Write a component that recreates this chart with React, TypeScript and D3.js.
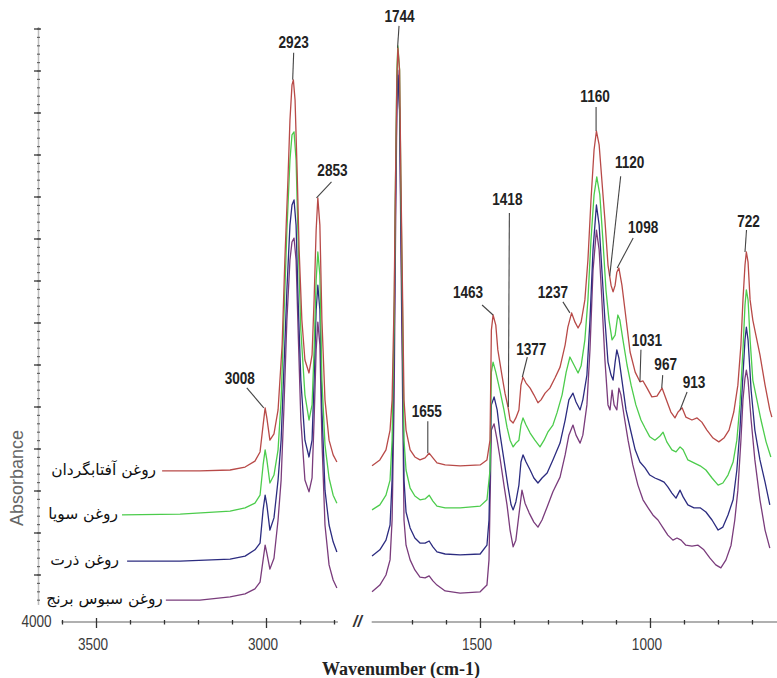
import React from 'react';
import * as d3 from 'd3';

const W = 777;
const H = 678;

// ---------- data ----------
const seriesNames = ['روغن آفتابگردان', 'روغن سویا', 'روغن ذرت', 'روغن سبوس برنج'];
const seriesColors = ['#b84a48', '#4ccc4c', '#2c2c80', '#7a3c7c'];

// [wavenumber (cm-1), absorbance] — 3400..2790 segment
const sunflowerHigh: [number, number][] = [
  [3307,0.348],[3196,0.348],[3107,0.350],[3063,0.357],[3034,0.371],[3019,0.393],[3010,0.457],[3004,0.498],[2999,0.474],[2990,0.421],[2978,0.436],[2966,0.493],[2954,0.648],[2946,0.850],[2937,1.040],[2931,1.183],[2925,1.267],[2921,1.279],[2916,1.231],[2910,1.064],[2904,0.874],[2896,0.707],[2887,0.612],[2875,0.581],[2866,0.624],[2860,0.755],[2854,0.921],[2849,0.998],[2843,0.933],[2837,0.707],[2828,0.517],[2816,0.421],[2804,0.386],[2793,0.369]
];
const soyHigh: [number, number][] = [
  [3425,0.243],[3254,0.245],[3107,0.252],[3063,0.260],[3034,0.271],[3019,0.290],[3010,0.362],[3004,0.398],[2999,0.374],[2990,0.319],[2978,0.338],[2966,0.398],[2957,0.517],[2949,0.707],[2940,0.921],[2931,1.088],[2925,1.148],[2919,1.155],[2913,1.088],[2907,0.898],[2899,0.683],[2887,0.529],[2875,0.469],[2866,0.505],[2860,0.636],[2854,0.802],[2849,0.869],[2843,0.814],[2837,0.564],[2828,0.410],[2816,0.331],[2804,0.290],[2793,0.271]
];
const cornHigh: [number, number][] = [
  [3410,0.133],[3254,0.133],[3107,0.138],[3063,0.145],[3034,0.160],[3019,0.176],[3010,0.255],[3004,0.290],[2999,0.267],[2990,0.207],[2978,0.236],[2966,0.326],[2957,0.421],[2949,0.588],[2940,0.779],[2931,0.933],[2925,0.981],[2919,0.993],[2913,0.933],[2907,0.755],[2899,0.564],[2887,0.421],[2875,0.381],[2866,0.421],[2860,0.564],[2854,0.731],[2849,0.790],[2843,0.731],[2837,0.493],[2828,0.302],[2816,0.219],[2804,0.179],[2793,0.155]
];
const riceBranHigh: [number, number][] = [
  [3296,0.040],[3196,0.040],[3107,0.048],[3063,0.055],[3034,0.067],[3019,0.083],[3010,0.136],[3004,0.171],[2999,0.152],[2990,0.114],[2978,0.140],[2966,0.231],[2957,0.326],[2949,0.493],[2940,0.707],[2931,0.850],[2925,0.893],[2919,0.902],[2913,0.850],[2907,0.683],[2899,0.469],[2887,0.326],[2875,0.298],[2866,0.331],[2860,0.469],[2854,0.636],[2849,0.702],[2843,0.648],[2837,0.421],[2828,0.219],[2816,0.124],[2804,0.088],[2793,0.069]
];

// 1820..640 segment
const sunflowerLow: [number, number][] = [
  [1819,0.360],[1796,0.374],[1778,0.398],[1766,0.445],[1760,0.517],[1754,0.755],[1750,1.040],[1746,1.279],[1743,1.355],[1738,1.302],[1734,1.040],[1729,0.755],[1725,0.517],[1719,0.445],[1707,0.398],[1693,0.381],[1678,0.374],[1663,0.379],[1651,0.390],[1640,0.379],[1628,0.367],[1604,0.362],[1560,0.360],[1501,0.362],[1481,0.374],[1472,0.421],[1468,0.683],[1463,0.719],[1455,0.695],[1449,0.636],[1437,0.576],[1428,0.533],[1419,0.500],[1413,0.469],[1404,0.462],[1396,0.474],[1387,0.493],[1381,0.552],[1375,0.571],[1366,0.557],[1354,0.545],[1343,0.529],[1331,0.510],[1322,0.517],[1310,0.533],[1296,0.545],[1281,0.569],[1266,0.595],[1251,0.648],[1243,0.690],[1232,0.724],[1222,0.702],[1213,0.688],[1204,0.702],[1193,0.755],[1184,0.850],[1175,0.993],[1166,1.112],[1159,1.157],[1151,1.124],[1143,1.040],[1134,0.945],[1125,0.838],[1116,0.790],[1110,0.774],[1104,0.790],[1099,0.821],[1093,0.831],[1084,0.790],[1075,0.731],[1060,0.631],[1045,0.583],[1031,0.560],[1022,0.562],[1010,0.545],[996,0.524],[981,0.526],[966,0.545],[955,0.521],[940,0.488],[928,0.474],[919,0.488],[907,0.498],[896,0.476],[878,0.469],[863,0.474],[849,0.464],[834,0.445],[816,0.426],[799,0.417],[784,0.426],[769,0.445],[755,0.488],[743,0.552],[734,0.648],[728,0.755],[722,0.838],[718,0.869],[713,0.845],[707,0.755],[699,0.707],[690,0.671],[678,0.624],[663,0.552],[649,0.493],[643,0.476]
];
const soyLow: [number, number][] = [
  [1819,0.255],[1796,0.267],[1778,0.290],[1766,0.326],[1760,0.421],[1754,0.707],[1750,1.040],[1746,1.302],[1743,1.360],[1738,1.302],[1734,1.017],[1729,0.707],[1725,0.421],[1719,0.350],[1707,0.307],[1693,0.288],[1678,0.279],[1663,0.281],[1651,0.290],[1640,0.276],[1628,0.264],[1604,0.260],[1560,0.260],[1501,0.264],[1481,0.279],[1472,0.350],[1468,0.583],[1463,0.607],[1455,0.583],[1443,0.540],[1431,0.493],[1422,0.452],[1413,0.421],[1404,0.405],[1396,0.414],[1387,0.421],[1381,0.457],[1375,0.474],[1366,0.457],[1354,0.438],[1340,0.421],[1325,0.405],[1313,0.421],[1302,0.440],[1287,0.457],[1275,0.486],[1260,0.529],[1248,0.583],[1237,0.619],[1225,0.600],[1213,0.581],[1204,0.598],[1193,0.660],[1184,0.755],[1175,0.898],[1166,1.005],[1158,1.048],[1149,1.005],[1140,0.898],[1131,0.779],[1122,0.707],[1113,0.660],[1104,0.671],[1096,0.719],[1090,0.707],[1081,0.660],[1069,0.600],[1057,0.552],[1043,0.505],[1028,0.469],[1016,0.450],[1002,0.429],[987,0.421],[972,0.431],[963,0.440],[952,0.417],[937,0.398],[925,0.393],[913,0.405],[904,0.398],[890,0.374],[872,0.367],[854,0.360],[837,0.350],[819,0.331],[801,0.314],[787,0.319],[772,0.338],[757,0.369],[746,0.421],[737,0.505],[728,0.636],[722,0.743],[718,0.779],[713,0.755],[707,0.660],[699,0.564],[687,0.517],[675,0.469],[660,0.417],[646,0.381]
];
const cornLow: [number, number][] = [
  [1819,0.145],[1796,0.160],[1778,0.183],[1766,0.219],[1760,0.326],[1754,0.636],[1750,0.993],[1746,1.231],[1743,1.290],[1738,1.207],[1734,0.945],[1729,0.612],[1725,0.326],[1719,0.250],[1707,0.212],[1693,0.188],[1678,0.176],[1663,0.176],[1651,0.181],[1640,0.167],[1628,0.155],[1604,0.150],[1560,0.148],[1501,0.150],[1481,0.171],[1475,0.231],[1468,0.505],[1460,0.524],[1451,0.493],[1443,0.438],[1431,0.374],[1419,0.310],[1410,0.267],[1404,0.255],[1396,0.274],[1387,0.314],[1381,0.369],[1375,0.386],[1366,0.369],[1354,0.350],[1343,0.331],[1331,0.319],[1319,0.331],[1304,0.343],[1287,0.374],[1266,0.414],[1251,0.469],[1240,0.517],[1228,0.533],[1219,0.512],[1207,0.493],[1199,0.517],[1187,0.576],[1178,0.707],[1169,0.874],[1159,0.981],[1151,0.933],[1143,0.826],[1134,0.707],[1125,0.607],[1116,0.576],[1110,0.564],[1104,0.607],[1099,0.636],[1093,0.617],[1084,0.564],[1072,0.493],[1060,0.450],[1045,0.398],[1031,0.369],[1016,0.355],[1002,0.338],[987,0.331],[972,0.326],[960,0.321],[949,0.310],[937,0.295],[925,0.283],[913,0.302],[904,0.286],[890,0.267],[872,0.260],[854,0.260],[837,0.250],[819,0.231],[801,0.207],[787,0.214],[772,0.243],[757,0.279],[746,0.350],[737,0.445],[728,0.576],[722,0.660],[718,0.690],[713,0.660],[704,0.540],[693,0.445],[678,0.374],[663,0.321],[649,0.267]
];
const riceBranLow: [number, number][] = [
  [1819,0.060],[1796,0.076],[1778,0.100],[1766,0.136],[1760,0.231],[1754,0.517],[1750,0.898],[1746,1.207],[1743,1.302],[1738,1.207],[1734,0.874],[1729,0.517],[1725,0.231],[1719,0.171],[1707,0.136],[1693,0.112],[1678,0.095],[1663,0.093],[1651,0.098],[1640,0.086],[1628,0.076],[1604,0.062],[1560,0.057],[1501,0.060],[1481,0.076],[1475,0.136],[1468,0.445],[1460,0.460],[1451,0.421],[1443,0.381],[1431,0.314],[1422,0.267],[1413,0.207],[1404,0.167],[1396,0.183],[1387,0.243],[1378,0.302],[1369,0.271],[1357,0.248],[1343,0.226],[1331,0.214],[1319,0.231],[1304,0.262],[1287,0.298],[1266,0.333],[1251,0.386],[1240,0.433],[1228,0.457],[1219,0.433],[1207,0.414],[1199,0.433],[1187,0.505],[1178,0.636],[1169,0.826],[1159,0.921],[1151,0.874],[1143,0.755],[1134,0.612],[1125,0.505],[1119,0.493],[1113,0.540],[1107,0.505],[1099,0.493],[1093,0.545],[1087,0.529],[1078,0.481],[1066,0.421],[1052,0.362],[1037,0.314],[1022,0.279],[1007,0.260],[993,0.243],[978,0.231],[963,0.212],[949,0.195],[934,0.183],[922,0.188],[910,0.183],[896,0.171],[878,0.169],[860,0.171],[843,0.160],[825,0.140],[808,0.124],[793,0.117],[778,0.136],[763,0.171],[752,0.231],[743,0.302],[734,0.421],[728,0.517],[722,0.569],[718,0.588],[713,0.564],[704,0.469],[693,0.374],[678,0.279],[663,0.207],[649,0.164]
];

const highSeries = [sunflowerHigh, soyHigh, cornHigh, riceBranHigh];
const lowSeries = [sunflowerLow, soyLow, cornLow, riceBranLow];

const peakLabels = [3008, 2923, 2853, 1744, 1655, 1463, 1418, 1377, 1237, 1160, 1120, 1098, 1031, 967, 913, 722];

const highTicks = [3600, 3500, 3400, 3300, 3200, 3100, 3000, 2900, 2800];
const lowTicks = [1700, 1600, 1500, 1400, 1300, 1200, 1100, 1000, 900, 800, 700];
const labeledTicks = [3500, 3000, 1500, 1000];

// ---------- layout ----------
const labelLayout: Record<number, { dx: number; dy: number; tdx: number; tdy: number; win?: number }> = {
  3008: { dx: -17, dy: -20, tdx: -7, tdy: -4 },
  2923: { dx: 1, dy: -27, tdx: 0, tdy: -5 },
  2853: { dx: 15, dy: -16, tdx: 1, tdy: -6 },
  1744: { dx: 1.5, dy: -22, tdx: 0.5, tdy: -4 },
  1655: { dx: 0, dy: -32, tdx: -1, tdy: -4 },
  1463: { dx: -11, dy: -10, tdx: -14, tdy: -7 },
  1418: { dx: 1, dy: -194, tdx: -2, tdy: -8 },
  1377: { dx: 5, dy: -20, tdx: 4, tdy: -2 },
  1237: { dx: -7, dy: -11, tdx: -10, tdy: -4 },
  1160: { dx: 0, dy: -24, tdx: -1, tdy: -5 },
  1120: { dx: 11, dy: -100, tdx: 9, tdy: -8, win: 0 },
  1098: { dx: 16, dy: -30, tdx: 10, tdy: -5 },
  1031: { dx: 1, dy: -32, tdx: 6, tdy: -4 },
  967: { dx: 1, dy: -13, tdx: 3, tdy: -5 },
  913: { dx: 7, dy: -18, tdx: 7, tdy: -4 },
  722: { dx: 1.5, dy: -22, tdx: 2, tdy: -3 },
};

const legendGap = [6, 4, 8, 3];
const narrow = 0.8;

const xHigh = d3.scaleLinear().domain([3600, 2790]).range([62.5, 337.9]);
const xLow = d3.scaleLinear().domain([1820, 627]).range([371.7, 777.3]);
const y = d3.scaleLinear().domain([0, 1.4]).range([617, 29]);
const axisY = 622;

function valueAt(series: [number, number][], wn: number, win: number): number {
  if (win > 0) {
    const near = series.filter(([w]) => Math.abs(w - wn) <= win);
    if (near.length) return d3.max(near, (d) => d[1]) as number;
  }
  for (let i = 0; i < series.length - 1; i++) {
    const [w0, a0] = series[i];
    const [w1, a1] = series[i + 1];
    if (w0 >= wn && w1 <= wn) {
      const t = (w0 - wn) / (w0 - w1 || 1);
      return a0 + (a1 - a0) * t;
    }
  }
  return series[series.length - 1][1];
}

const sansFont = "'Liberation Sans', Arial, sans-serif";

function NarrowText(props: { x: number; y: number; size: number; bold?: boolean; fill: string; children: React.ReactNode }) {
  return (
    <text
      transform={`translate(${props.x},${props.y}) scale(${narrow},1)`}
      textAnchor="middle"
      fontFamily={sansFont}
      fontWeight={props.bold ? 'bold' : 'normal'}
      fontSize={props.size}
      fill={props.fill}
    >
      {props.children}
    </text>
  );
}

export default function App() {
  const lineHigh = d3.line<[number, number]>().x((d) => xHigh(d[0])).y((d) => y(d[1]));
  const lineLow = d3.line<[number, number]>().x((d) => xLow(d[0])).y((d) => y(d[1]));

  const majorY = d3.range(1, 15).map((k) => k / 10);
  const minorY = d3.range(2, 71).map((k) => k / 50).filter((v) => y(v) <= 605);

  const order = [3, 2, 1, 0];

  return (
    <div style={{ position: 'absolute', left: 0, top: 0, width: W, height: H, background: '#fff' }}>
      <svg width={W} height={H} viewBox={`0 0 ${W} ${H}`} style={{ display: 'block' }}>
        <rect width={W} height={H} fill="#fff" />

        {/* y axis */}
        <line x1={38.5} x2={38.5} y1={y(1.4) - 2} y2={605} stroke="#bdbdbd" strokeWidth={1.5} />
        {minorY.map((v, i) => (
          <line key={'my' + i} x1={37} x2={40} y1={y(v)} y2={y(v)} stroke="#666" strokeWidth={1.2} />
        ))}
        {majorY.map((v, i) => (
          <line key={'My' + i} x1={34} x2={41} y1={y(v)} y2={y(v)} stroke="#444" strokeWidth={1.4} />
        ))}
        <text
          transform={`translate(23,478) rotate(-90)`}
          textAnchor="middle"
          fontFamily={sansFont}
          fontSize={18}
          fill="#666"
        >
          Absorbance
        </text>

        {/* x axis */}
        <line x1={xHigh(3600) - 1} x2={xHigh(2790)} y1={axisY} y2={axisY} stroke="#b0b0b0" strokeWidth={2.2} />
        <line x1={xLow(1820)} x2={W} y1={axisY} y2={axisY} stroke="#b0b0b0" strokeWidth={2.2} />
        {highTicks.map((t) => {
          const major = labeledTicks.includes(t);
          return (
            <line key={'ht' + t} x1={xHigh(t)} x2={xHigh(t)} y1={major ? 618 : 620} y2={major ? 628 : 624.5} stroke="#333" strokeWidth={1.3} />
          );
        })}
        {lowTicks.map((t) => {
          const major = labeledTicks.includes(t);
          return (
            <line key={'lt' + t} x1={xLow(t)} x2={xLow(t)} y1={major ? 618 : 620} y2={major ? 628 : 624.5} stroke="#333" strokeWidth={1.3} />
          );
        })}
        {labeledTicks.map((t) => {
          const xx = t > 2000 ? xHigh(t) : xLow(t);
          return (
            <NarrowText key={'tl' + t} x={xx - 3.5} y={650} size={17} fill="#3a3a3a">
              {t}
            </NarrowText>
          );
        })}
        <NarrowText x={36.5} y={627} size={17} fill="#3a3a3a">
          4000
        </NarrowText>
        <text x={357.5} y={627} textAnchor="middle" fontFamily={sansFont} fontStyle="italic" fontWeight="bold" fontSize={16} fill="#333">
          //
        </text>
        <text x={401} y={675} textAnchor="middle" fontFamily="'Liberation Serif', 'Times New Roman', serif" fontWeight="bold" fontSize={18} fill="#222">
          Wavenumber (cm-1)
        </text>

        {/* spectra */}
        {order.map((i) => (
          <g key={'s' + i}>
            <path d={lineHigh(highSeries[i]) || ''} fill="none" stroke={seriesColors[i]} strokeWidth={1.3} strokeLinejoin="round" />
            <path d={lineLow(lowSeries[i]) || ''} fill="none" stroke={seriesColors[i]} strokeWidth={1.3} strokeLinejoin="round" />
          </g>
        ))}

        {/* legend labels at the start of each trace */}
        {seriesNames.map((name, i) => {
          const first = highSeries[i][0];
          return (
            <text
              key={'lg' + i}
              x={xHigh(first[0]) - legendGap[i]}
              y={y(first[1]) + 4}
              textAnchor="end"
              fontFamily="'DejaVu Sans', sans-serif"
              fontSize={15.5}
              fill="#111"
            >
              {name}
            </text>
          );
        })}

        {/* peak annotations */}
        {peakLabels.map((p) => {
          const L = labelLayout[p];
          const high = p > 2000;
          const sx = high ? xHigh : xLow;
          const ser = high ? sunflowerHigh : sunflowerLow;
          const ax = sx(p);
          const ay = y(valueAt(ser, p, L.win === undefined ? 5 : L.win));
          const tx = ax + L.dx;
          const ty = ay + L.dy;
          return (
            <g key={'pk' + p}>
              <line x1={ax} y1={ay} x2={tx} y2={ty} stroke="#444" strokeWidth={1.1} />
              <NarrowText x={tx + L.tdx} y={ty + L.tdy} size={17} bold fill="#222">
                {p}
              </NarrowText>
            </g>
          );
        })}
      </svg>
    </div>
  );
}
